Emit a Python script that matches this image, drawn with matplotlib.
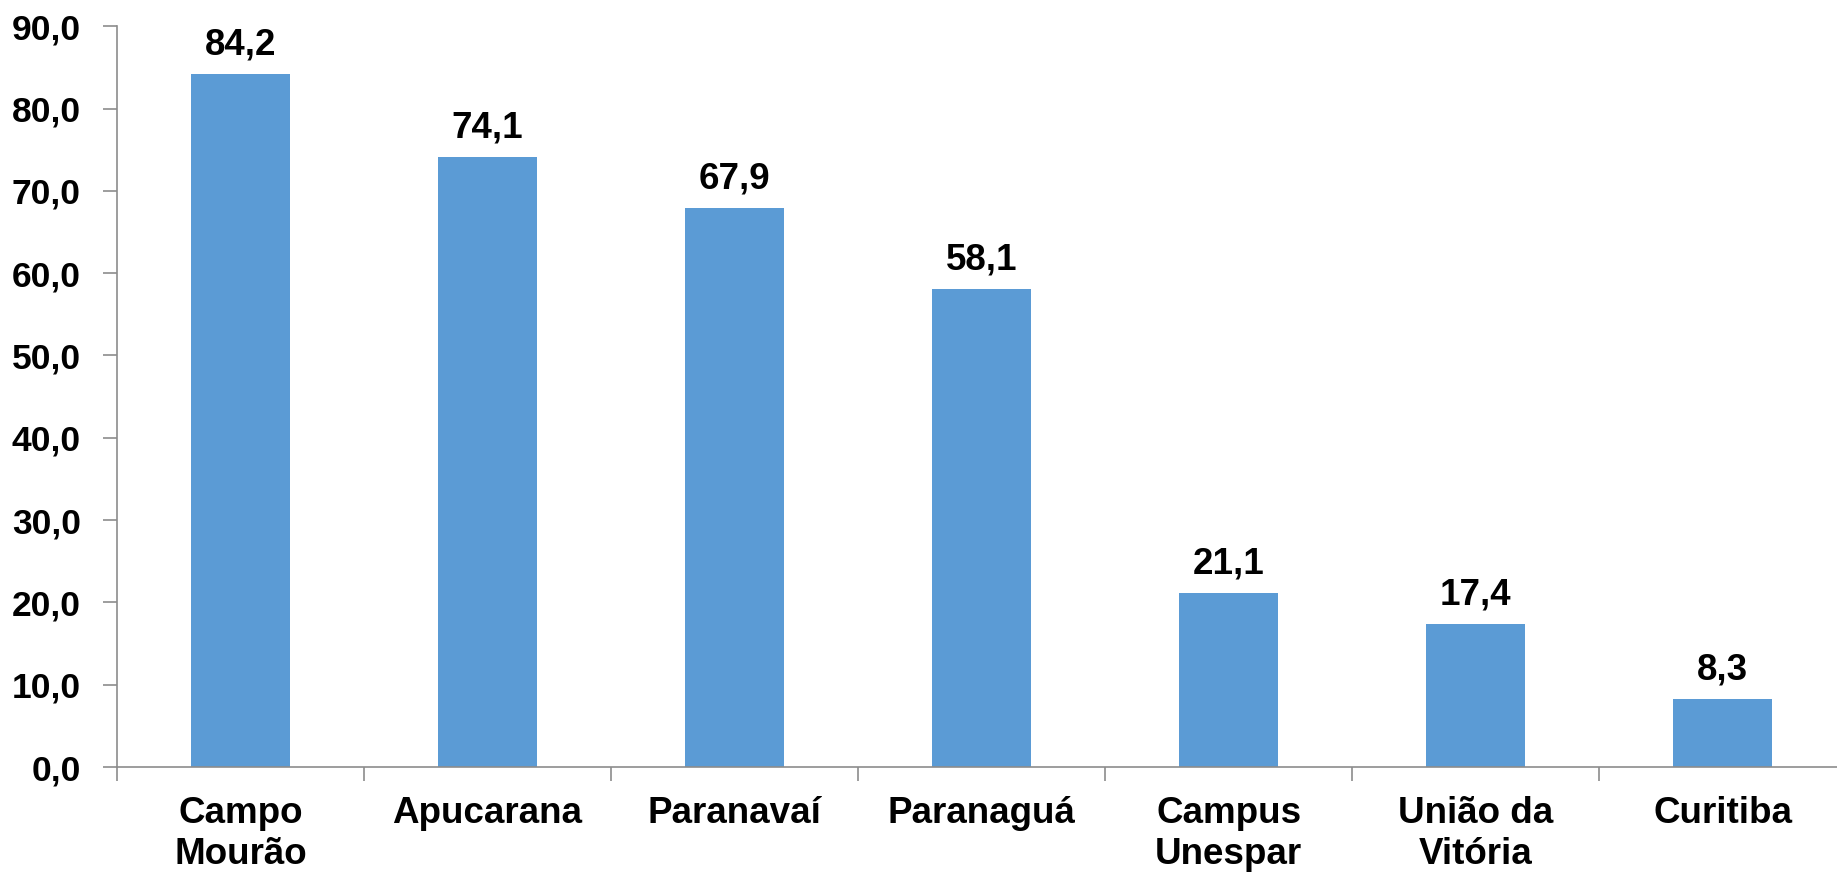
import numpy as np
import matplotlib.pyplot as plt

# dados
campi = ["Campo\nMourão", "Apucarana", "Paranavaí", "Paranaguá",
         "Campus\nUnespar", "União da\nVitória", "Curitiba"]
valores = [84.2, 74.1, 67.9, 58.1, 21.1, 17.4, 8.3]
yticks = [0, 10, 20, 30, 40, 50, 60, 70, 80, 90]

plt.rcParams['font.family'] = ['Liberation Sans', 'DejaVu Sans']
plt.rcParams['font.weight'] = 'bold'

fig = plt.figure(figsize=(18.37, 8.73), dpi=100)
ax = fig.add_axes([0.0637, 0.1214, 1.005 - 0.0637, 0.970 - 0.1214])

x = np.arange(len(campi))
bars = ax.bar(x, valores, width=0.40, color="#5B9BD5", zorder=2)

for xi, v in zip(x, valores):
    ax.annotate(f"{v:.1f}".replace(".", ","), (xi, v), xytext=(0, 14),
                textcoords="offset points", ha="center", va="baseline",
                fontsize=26.5, fontweight="bold")

ax.set_xlim(-0.5, len(campi) - 0.5)
ax.set_ylim(0, 90)
ax.set_yticks(yticks)
ax.set_yticklabels([f"{t:.1f}".replace(".", ",") for t in yticks],
                   fontsize=25.5, fontweight="bold")
ax.set_xticks(x)
ax.set_xticklabels(campi, fontsize=26.5, fontweight="bold", linespacing=1.22)
ax.set_xticks(np.arange(-0.5, len(campi), 1.0), minor=True)

ax.tick_params(axis="x", which="major", length=0, pad=21)
ax.tick_params(axis="x", which="minor", length=10, color="#8c8c8c", width=1.2)
ax.tick_params(axis="y", length=10, color="#8c8c8c", width=1.2, pad=16)

for s in ["top", "right"]:
    ax.spines[s].set_visible(False)
for s in ["left", "bottom"]:
    ax.spines[s].set_color("#8c8c8c")
    ax.spines[s].set_linewidth(1.2)

fig.savefig("out.png", dpi=100)
